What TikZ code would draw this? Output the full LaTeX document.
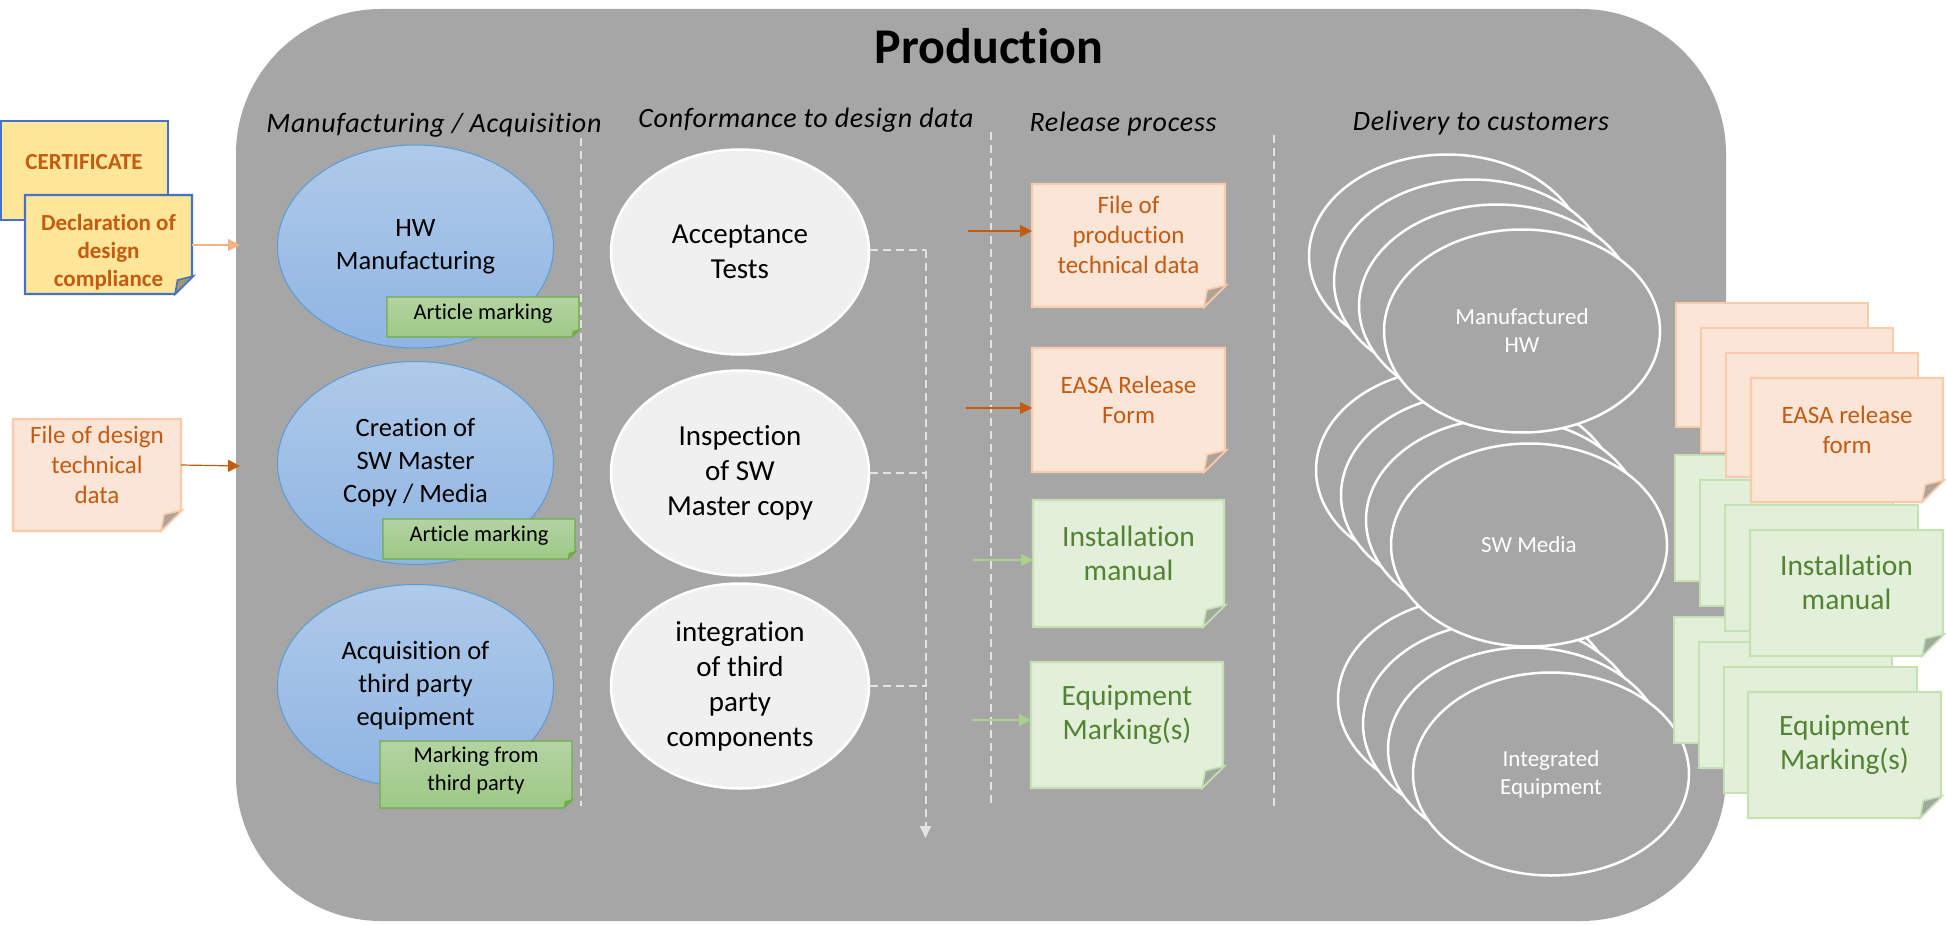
\documentclass[tikz,border=0pt]{standalone}
\usepackage{fontspec}
\setmainfont[Ligatures=NoCommon]{Carlito}
\usepackage{tikz}
\usetikzlibrary{arrows.meta,shapes.geometric,positioning}
\definecolor{panel}{HTML}{A6A6A6}
\definecolor{burnt}{HTML}{C55A11}
\definecolor{moss}{HTML}{548235}
\definecolor{peachfill}{HTML}{FBE5D6}
\definecolor{peachedge}{HTML}{F8CBAD}
\definecolor{leaffill}{HTML}{E2F0D9}
\definecolor{leafedge}{HTML}{C5E0B4}
\definecolor{softarrow}{HTML}{F4B183}
\definecolor{leafarrow}{HTML}{A9D18E}
\definecolor{certfill}{HTML}{FFE699}
\definecolor{certedge}{HTML}{4472C4}
\definecolor{dashgrey}{HTML}{E3E3E3}
\definecolor{skytop}{HTML}{AFCAE9}
\definecolor{skylow}{HTML}{8FB5E3}
\definecolor{skyedge}{HTML}{5B9BD5}
\definecolor{marktop}{HTML}{B4D3A3}
\definecolor{marklow}{HTML}{9DC985}
\definecolor{markedge}{HTML}{70AD47}
\newcommand{\sz}[2]{\fontsize{#1}{#2}\selectfont}
% name, kind, left, top, right, bottom, fold size, text
\newcommand{\notesheet}[9][]{%
  \draw[#3sheet] (#4,#5) -- (#6,#5) -- (#6,{#7-#8}) -- ({#6-#8},#7) -- (#4,#7) -- cycle;
  \draw[#3fold] ({#6+1.5},{#7-#8-1}) -- ({#6-#8},#7) -- ({#6-0.85*#8},{#7-0.82*#8}) -- cycle;
  \node[#3text,align=center,inner sep=0pt,outer sep=0pt,minimum width={#6-#4},minimum height={#7-#8-#5},#1] (#2)
    at ({(#4+#6)/2},{(#5+#7-#8)/2}) {#9};
}
\begin{document}
\begin{tikzpicture}[x=1pt,y=-1pt,>={Triangle[length=12pt,width=12pt]}]

\tikzset{
  peachsheet/.style={draw=peachedge,fill=peachfill,line width=2.2pt},
  peachfold/.style={draw=peachedge,fill=black!25!peachfill!80!gray,line width=1.6pt},
  peachtext/.style={text=burnt,font=\sz{25}{30}},
  leafsheet/.style={draw=leafedge,fill=leaffill,line width=2.2pt},
  leaffold/.style={draw=leafedge,fill=black!25!leaffill!80!gray,line width=1.6pt},
  leaftext/.style={text=moss,font=\sz{29.5}{34}},
  certsheet/.style={draw=certedge,fill=certfill,line width=2.2pt},
  certfold/.style={draw=certedge,fill=black!30!certfill!70!gray,line width=1.6pt},
  certtext/.style={text=burnt,font=\bfseries\sz{23}{28}},
  marksheet/.style={draw=markedge,top color=marktop,bottom color=marklow,line width=1.2pt},
  markfold/.style={draw=markedge,fill=markedge,line width=.6pt},
  marktext/.style={text=black,font=\sz{22.5}{28}},
  workoval/.style={ellipse,draw=skyedge,top color=skytop,bottom color=skylow,
    line width=1pt,inner sep=0pt,minimum width=276,minimum height=203,align=center,font=\sz{26.5}{33}},
  testoval/.style={ellipse,draw=white,fill=black!6,line width=2.5pt,inner sep=0pt,minimum width=258,minimum height=205,align=center,font=\sz{29}{35}},
  stackoval/.style={ellipse,draw=white,fill=panel,line width=2.5pt,inner sep=0pt,minimum width=276,minimum height=203,align=center,text=white,font=\sz{23}{28}},
  backsheet/.style={rectangle,anchor=north west,inner sep=0pt,outer sep=0pt},
  heading/.style={inner sep=0pt,font=\itshape\addfontfeature{LetterSpace=2.5}\sz{28}{34}},
  divider/.style={draw=dashgrey,line width=1.5pt,dash pattern=on 8pt off 5pt},
  flowline/.style={draw=dashgrey,line width=2pt,dash pattern=on 8pt off 5pt}
}
\useasboundingbox (0,0) rectangle (1946,925);

\node[rectangle,rounded corners=145pt,fill=panel,inner sep=0pt,outer sep=0pt,minimum width=1490,minimum height=912] (production) at (981,465) {};
\node[inner sep=0pt,font=\bfseries\sz{50}{58}] (title) at (989,46) {Production};

\node[heading] (headmanu) at (434,125) {Manufacturing / Acquisition};
\node[heading] (headconf) at (806,120) {Conformance to design data};
\node[heading] (headrel) at (1123,124) {Release process};
\node[heading] (headdeliv) at (1481,123) {Delivery to customers};

% column separators
\coordinate (sepa) at (581,138);
\coordinate (sepaend) at (581,806);
\coordinate (sepb) at (991,132);
\coordinate (sepbend) at (991,803);
\coordinate (sepc) at (1274,135);
\coordinate (sepcend) at (1274,806);
\draw[divider] (sepa) -- (sepaend);
\draw[divider] (sepb) -- (sepbend);
\draw[divider] (sepc) -- (sepcend);

% manufacturing column
\node[workoval] (hw) at (415.5,246.5) {HW\\Manufacturing};
\node[workoval] (creation) at (415.5,463) {Creation of\\SW Master\\Copy / Media};
\node[workoval] (acquis) at (415.5,686) {Acquisition of\\third party\\equipment};
\notesheet{markhw}{mark}{387}{297}{579}{337}{7}{Article marking}
\notesheet{marksw}{mark}{383}{519}{575}{559}{7}{Article marking}
\notesheet{markthird}{mark}{380}{741}{572}{808}{8}{Marking from\\third party}

% conformance column
\node[testoval] (accept) at (740,252) {Acceptance\\Tests};
\node[testoval] (inspect) at (740,473) {Inspection\\of SW\\Master copy};
\node[testoval] (integr) at (740,686) {integration\\of third\\party\\components};
\coordinate (flowtop) at (925.5,250);
\coordinate (flowend) at (925.5,838);
\draw[flowline] (accept.east |- flowtop) -- (flowtop);
\draw[flowline] (inspect.east) -- (inspect.east -| flowtop);
\draw[flowline] (integr.east) -- (integr.east -| flowtop);
\draw[flowline,->,>={Triangle[length=12pt,width=11pt]},dashgrey] (flowtop) -- (flowend);

% release column
\notesheet{prodfile}{peach}{1032}{184}{1225}{307}{21}{File of\\production\\technical data}
\notesheet{release}{peach}{1032}{348}{1225}{472}{21}{EASA Release\\Form}
\notesheet{install}{leaf}{1033}{500}{1224}{627}{21}{Installation\\manual}
\notesheet{marking}{leaf}{1031}{662}{1223}{788}{21}{Equipment\\Marking(s)}
\coordinate (tailprod) at (968,231);
\coordinate (tailrel) at (966,408);
\coordinate (tailinst) at (973,560);
\coordinate (tailmark) at (972,720);
\draw[->,burnt,line width=1.2pt] (tailprod) -- (prodfile.west |- tailprod);
\draw[->,burnt,line width=1.2pt] (tailrel) -- (release.west |- tailrel);
\draw[->,leafarrow,line width=1.2pt] (tailinst) -- (install.west |- tailinst);
\draw[->,leafarrow,line width=1.2pt] (tailmark) -- (marking.west |- tailmark);

% delivered articles, last stack first
\foreach \n/\cx/\cy in {a/1476/699,b/1501/724,c/1526/749}
  \node[stackoval] (integ\n) at (\cx,\cy) {};
\node[stackoval] (integ) at (1551,774) {Integrated\\Equipment};
\foreach \n/\cx/\cy in {a/1454/470,b/1479/495,c/1504/520}
  \node[stackoval] (media\n) at (\cx,\cy) {};
\node[stackoval] (media) at (1529,545) {SW Media};
\foreach \n/\cx/\cy in {a/1447/256,b/1472/281,c/1497/306}
  \node[stackoval] (manuf\n) at (\cx,\cy) {};
\node[stackoval] (manuf) at (1522,331) {Manufactured\\HW};

% delivered documents
\foreach \n/\lx/\ty in {a/1674/617,b/1699/642,c/1724/667}
  \node[leafsheet,backsheet,minimum width=193,minimum height=126] (equipb\n) at (\lx,\ty) {};
\notesheet{equipdoc}{leaf}{1748}{692}{1941}{818}{21}{Equipment\\Marking(s)}
\foreach \n/\lx/\ty in {a/1675/455,b/1700/480,c/1725/505}
  \node[leafsheet,backsheet,minimum width=193,minimum height=126] (instb\n) at (\lx,\ty) {};
\notesheet{instdoc}{leaf}{1750}{530}{1943}{656}{21}{Installation\\manual}
\foreach \n/\lx/\ty in {a/1676/303,b/1701/328,c/1726/353}
  \node[peachsheet,backsheet,minimum width=192,minimum height=124] (easab\n) at (\lx,\ty) {};
\notesheet{easadoc}{peach}{1751}{378}{1943}{502}{21}{EASA release\\form}

% inputs on the left
\node[certsheet,backsheet,minimum width=167,minimum height=99] (cert) at (1,121) {};
\node[text=burnt,font=\bfseries\sz{23}{28},inner sep=0pt] (certlabel) at (84,162) {CERTIFICATE};
\notesheet[yshift=-16pt]{decl}{cert}{25}{195}{192}{294}{17}{Declaration of\\design\\compliance}
\notesheet{design}{peach}{13}{419}{181}{531}{20}{File of design\\technical\\data}
\coordinate (portdecl) at (240,245);
\coordinate (portdesign) at (240,466);
\draw[->,softarrow,line width=1.2pt] (decl.east |- portdecl) -- (portdecl);
\draw[->,burnt,line width=1.2pt] (design.east) -- (portdesign);

\end{tikzpicture}
\end{document}
